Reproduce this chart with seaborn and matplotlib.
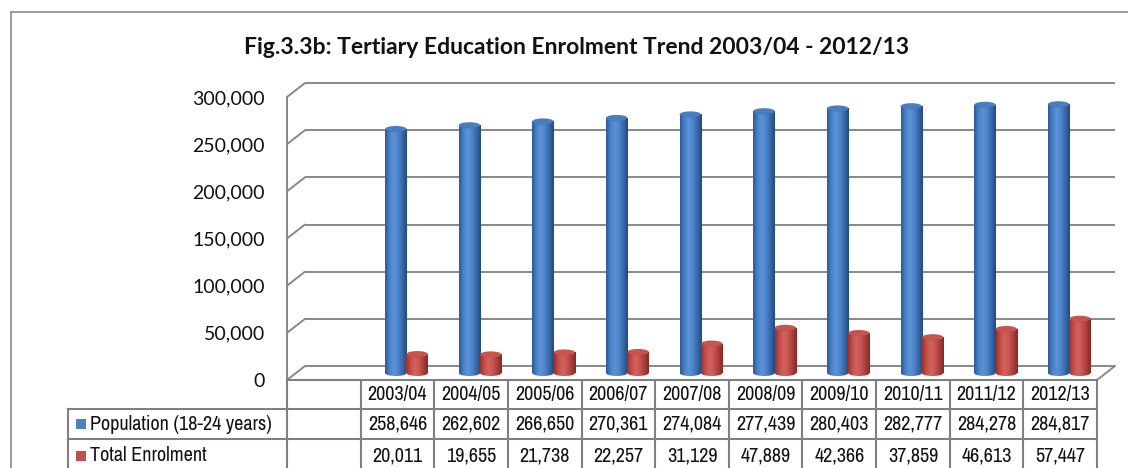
import numpy as np
import pandas as pd
import matplotlib
matplotlib.use("Agg")
import matplotlib.pyplot as plt
import matplotlib.transforms as mtransforms
from matplotlib.patches import Ellipse, Rectangle
from matplotlib.lines import Line2D
from matplotlib.colors import LinearSegmentedColormap
from matplotlib.font_manager import FontProperties, fontManager
import seaborn as sns

# ---- data -------------------------------------------------------------
years = ["2003/04", "2004/05", "2005/06", "2006/07", "2007/08",
         "2008/09", "2009/10", "2010/11", "2011/12", "2012/13"]
population = [258646, 262602, 266650, 270361, 274084,
              277439, 280403, 282777, 284278, 284817]
enrolment = [20011, 19655, 21738, 22257, 31129,
             47889, 42366, 37859, 46613, 57447]
series_names = ["Population (18-24 years)", "Total Enrolment"]
y_ticks = [0, 50000, 100000, 150000, 200000, 250000, 300000]
title = "Fig.3.3b: Tertiary Education Enrolment Trend 2003/04 - 2012/13"

# ---- style ------------------------------------------------------------
sns.set_theme(style="white")
plt.rcParams["font.family"] = ["Lato", "DejaVu Sans"]


def narrow_font():
    """Pick an installed narrow / condensed sans face for the data table."""
    entries = [f for f in fontManager.ttflist
               if f.style == "normal" and f.weight in (400, "normal", "regular")]
    prefs = [
        lambda f: "Narrow" in f.name and "Liberation" in f.name,
        lambda f: "Narrow" in f.name,
        lambda f: f.name == "Roboto Condensed",
        lambda f: f.name.startswith("Noto Sans") and "ondensed" in str(f.stretch)
                  and "semi" not in str(f.stretch) and "extra" not in str(f.stretch),
        lambda f: f.name == "DejaVu Sans" and str(f.stretch) == "condensed",
        lambda f: "ondensed" in f.name,
    ]
    for test in prefs:
        hits = [f for f in entries if test(f)]
        if hits:
            return FontProperties(fname=hits[0].fname)
    return FontProperties(family="Liberation Sans")


tab_fp = narrow_font()

W, H = 1128, 468
fig = plt.figure(figsize=(W / 100, H / 100), dpi=100)
fig.patch.set_facecolor("white")
renderer = fig.canvas.get_renderer()

grid_col = "#888888"
edge_col = "#808080"
text_col = "#111111"
blue, red = "#4F81BD", "#C0504D"

# front plane of the 3-D box (pixels, measured from the top-left corner)
left_px, right_px, base_px, top_px = 287, 1097, 380, 97
DX, DY = 18, 14          # depth of the box
ax = fig.add_axes([left_px / W, (H - base_px) / H,
                   (right_px - left_px) / W, (base_px - top_px) / H])
ax.patch.set_alpha(0)

categories = [""] + years
df = pd.DataFrame({
    "period": years * 2,
    "value": population + enrolment,
    "series": [series_names[0]] * len(years) + [series_names[1]] * len(years),
})
sns.barplot(data=df, x="period", y="value", hue="series", order=categories,
            hue_order=series_names, palette=[blue, red], width=0.58,
            saturation=1, errorbar=None, legend=False, ax=ax)

ax.set_xlim(-0.5, len(categories) - 0.5)
ax.set_ylim(0, y_ticks[-1])
for s in ax.spines.values():
    s.set_visible(False)
ax.set_xticks([])
ax.set_xlabel("")
ax.set_ylabel("")
ax.set_yticks(y_ticks)
ax.set_yticklabels([f"{v:,}" for v in y_ticks])
ax.tick_params(axis="y", length=0, pad=16, labelsize=14, labelcolor=text_col)
ax.grid(False)

back = mtransforms.offset_copy(ax.transData, fig=fig, x=DX, y=DY, units="dots")
mid = mtransforms.offset_copy(ax.transData, fig=fig, x=DX / 2, y=DY / 2, units="dots")
ident = mtransforms.IdentityTransform()
x0, x1 = ax.get_xlim()


def seg(xs, ys, **kw):
    """Line in display pixels (origin bottom-left)."""
    fig.add_artist(Line2D(xs, ys, transform=ident, **kw))


# back wall gridlines and the side-wall diagonals
for v in y_ticks:
    ax.plot([x0, x1], [v, v], transform=back, color=grid_col, lw=1.4,
            clip_on=False, zorder=0, solid_capstyle="butt")
    p = ax.transData.transform((x0, v))
    seg([p[0], p[0] + DX], [p[1], p[1] + DY], color=grid_col, lw=1.4)
# front-left vertical edge and floor right edge
pb = ax.transData.transform((x0, 0))
pt = ax.transData.transform((x0, y_ticks[-1]))
seg([pb[0], pt[0]], [pb[1], pt[1]], color=grid_col, lw=1.4)
pr = ax.transData.transform((x1, 0))
seg([pr[0], pr[0] + DX], [pr[1], pr[1] + DY], color=grid_col, lw=1.4)

# ---- cylinders ---------------------------------------------------------
shades = {
    blue: (["#2C5896", "#4A80C6", "#5C93D8", "#4C84C9", "#3668A8", "#24497E"], "#4A7CC0"),
    red: (["#9A302D", "#C44E4A", "#D4625E", "#C65450", "#A83D3A", "#85292A"], "#C9534F"),
}
grad = np.linspace(0, 1, 128)[np.newaxis, :]
ell_h = 6 * y_ticks[-1] / (base_px - top_px)   # cap height: 6 px in data units

for container, col in zip(ax.containers, [blue, red]):
    cmap = LinearSegmentedColormap.from_list("cyl", shades[col][0])
    for bar in container:
        h = bar.get_height()
        if not np.isfinite(h) or h <= 0:
            continue
        x, w = bar.get_x(), bar.get_width()
        bar.set_transform(mid)
        bar.set_facecolor("none")
        bar.set_edgecolor("none")
        body = ax.imshow(grad, cmap=cmap, extent=[x, x + w, 0, h],
                         transform=mid, aspect="auto", zorder=3,
                         interpolation="bilinear")
        body.set_clip_path(bar)
        base = Ellipse((x + w / 2, 0), w, ell_h, transform=mid,
                       facecolor="none", edgecolor="none")
        ax.add_patch(base)
        bottom = ax.imshow(grad, cmap=cmap, extent=[x, x + w, -ell_h, ell_h],
                           transform=mid, aspect="auto", zorder=2,
                           interpolation="bilinear")
        bottom.set_clip_path(base)
        ax.add_patch(Ellipse((x + w / 2, h), w, ell_h, transform=mid,
                             facecolor=shades[col][1], edgecolor="#3a3a3a22",
                             lw=0.4, zorder=4))

ax.set_xlim(x0, x1)
ax.set_ylim(0, y_ticks[-1])

# ---- data table under the plot --------------------------------------------
# size the narrow face so that a six-digit value is about 60 px wide
probe = fig.text(0, 0, "258,646", fontproperties=tab_fp, fontsize=14)
probe_w = probe.get_window_extent(renderer).width
probe.remove()
tab_size = min(15.5, 14 * 60 / probe_w)
tab_font = dict(fontproperties=tab_fp, fontsize=tab_size, color=text_col)

label_left = 68
row_edges = [base_px, 409, 439, 472]          # pixel rows from the top
col_edges = [ax.transData.transform((i - 0.5, 0))[0]
             for i in range(len(categories) + 1)]
tkw = dict(color=edge_col, lw=1.5, solid_capstyle="projecting")

# horizontal rules
seg([col_edges[0], col_edges[-1]], [H - row_edges[0]] * 2, **tkw)
for r in row_edges[1:3]:
    seg([label_left, col_edges[-1]], [H - r] * 2, **tkw)
# vertical rules
seg([label_left, label_left], [H - row_edges[1], H - row_edges[-1]], **tkw)
for cx in col_edges:
    seg([cx, cx], [H - row_edges[0], H - row_edges[-1]], **tkw)

# header row: period labels
hy = H - (row_edges[0] + row_edges[1]) / 2
for i, name in enumerate(categories):
    if name:
        cx = (col_edges[i] + col_edges[i + 1]) / 2
        fig.text(cx / W, hy / H, name, ha="center", va="center", **tab_font)

# value rows with legend keys
for r, (name, vals, col) in enumerate(zip(series_names, [population, enrolment],
                                           [blue, red]), start=1):
    cy = H - (row_edges[r] + row_edges[r + 1]) / 2
    fig.add_artist(Rectangle((label_left + 8, cy - 5), 10, 10, transform=ident,
                             facecolor=col, edgecolor="none"))
    fig.text((label_left + 22) / W, cy / H, name, ha="left", va="center", **tab_font)
    for i, v in enumerate(vals, start=1):
        cx = (col_edges[i] + col_edges[i + 1]) / 2
        fig.text(cx / W, cy / H, f"{v:,}", ha="center", va="center", **tab_font)

# ---- title and chart frame -------------------------------------------------
fig.text(577 / W, 1 - 47 / H, title, ha="center", va="center",
         fontsize=16.5, fontweight="bold", color=text_col)
seg([11, W], [H - 12, H - 12], color="#8a8a8a", lw=1.2)
seg([11, 11], [0, H - 12], color="#8a8a8a", lw=1.2)

fig.savefig("out.png", dpi=100, facecolor="white")
